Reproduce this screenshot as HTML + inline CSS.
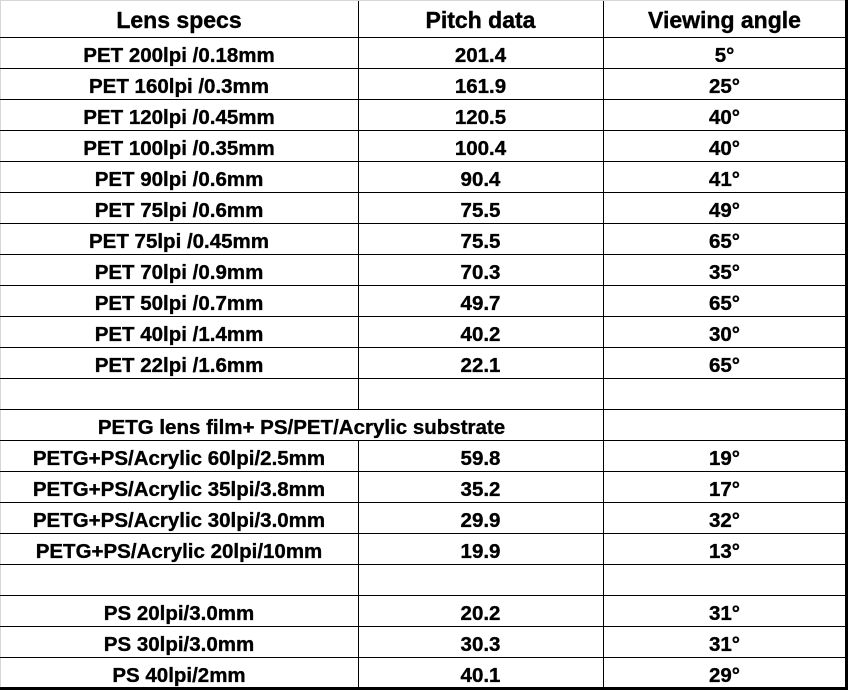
<!DOCTYPE html>
<html>
<head>
<meta charset="utf-8">
<style>
  html,body{margin:0;padding:0;background:#fff;}
  #w{position:relative;width:848px;height:690px;overflow:hidden;background:#fff;
     font-family:"Liberation Sans",Arial,sans-serif;font-weight:bold;color:#000;}
  .h{position:absolute;left:0;width:845px;height:1px;background:#000;}
  .v{position:absolute;width:1px;background:#000;}
  .t{position:absolute;height:31px;line-height:31px;font-size:20.5px;text-align:center;white-space:nowrap;-webkit-text-stroke:0.35px #000;}
  .hd{position:absolute;height:37px;line-height:37px;font-size:23px;text-align:center;white-space:nowrap;top:2px;-webkit-text-stroke:0.4px #000;}
  .c1{left:0;width:358px;}
  .c2{left:358px;width:245px;}
  .c3{left:603px;width:243px;}
  .m{left:0;width:603px;}
</style>
</head>
<body>
<div id="w">
  <!-- outer borders -->
  <div style="position:absolute;left:0;top:0;width:848px;height:1px;background:#d6d6d6;"></div>
  <div style="position:absolute;left:0;top:0;width:1px;height:690px;background:#d6d6d6;"></div>
  <div style="position:absolute;left:845px;top:0;width:3px;height:690px;background:#000;"></div>
  <div style="position:absolute;left:0;top:687px;width:848px;height:3px;background:#000;"></div>

  <!-- vertical lines -->
  <div class="v" style="left:358px;top:1px;height:409px;"></div>
  <div class="v" style="left:358px;top:440px;height:248px;"></div>
  <div class="v" style="left:603px;top:1px;height:687px;"></div>

  <!-- horizontal lines -->
  <div class="h" style="top:37px"></div>
  <div class="h" style="top:68px"></div>
  <div class="h" style="top:99px"></div>
  <div class="h" style="top:130px"></div>
  <div class="h" style="top:161px"></div>
  <div class="h" style="top:192px"></div>
  <div class="h" style="top:223px"></div>
  <div class="h" style="top:254px"></div>
  <div class="h" style="top:285px"></div>
  <div class="h" style="top:316px"></div>
  <div class="h" style="top:347px"></div>
  <div class="h" style="top:378px"></div>
  <div class="h" style="top:409px"></div>
  <div class="h" style="top:440px"></div>
  <div class="h" style="top:471px"></div>
  <div class="h" style="top:502px"></div>
  <div class="h" style="top:533px"></div>
  <div class="h" style="top:564px"></div>
  <div class="h" style="top:595px"></div>
  <div class="h" style="top:626px"></div>
  <div class="h" style="top:657px"></div>

  <!-- header -->
  <div class="hd c1">Lens specs</div>
  <div class="hd c2">Pitch data</div>
  <div class="hd c3">Viewing angle</div>

  <!-- rows -->
  <div class="t c1" style="top:40px">PET 200lpi /0.18mm</div><div class="t c2" style="top:40px">201.4</div><div class="t c3" style="top:40px">5°</div>
  <div class="t c1" style="top:71px">PET 160lpi /0.3mm</div><div class="t c2" style="top:71px">161.9</div><div class="t c3" style="top:71px">25°</div>
  <div class="t c1" style="top:102px">PET 120lpi /0.45mm</div><div class="t c2" style="top:102px">120.5</div><div class="t c3" style="top:102px">40°</div>
  <div class="t c1" style="top:133px">PET 100lpi /0.35mm</div><div class="t c2" style="top:133px">100.4</div><div class="t c3" style="top:133px">40°</div>
  <div class="t c1" style="top:164px">PET 90lpi /0.6mm</div><div class="t c2" style="top:164px">90.4</div><div class="t c3" style="top:164px">41°</div>
  <div class="t c1" style="top:195px">PET 75lpi /0.6mm</div><div class="t c2" style="top:195px">75.5</div><div class="t c3" style="top:195px">49°</div>
  <div class="t c1" style="top:226px">PET 75lpi /0.45mm</div><div class="t c2" style="top:226px">75.5</div><div class="t c3" style="top:226px">65°</div>
  <div class="t c1" style="top:257px">PET 70lpi /0.9mm</div><div class="t c2" style="top:257px">70.3</div><div class="t c3" style="top:257px">35°</div>
  <div class="t c1" style="top:288px">PET 50lpi /0.7mm</div><div class="t c2" style="top:288px">49.7</div><div class="t c3" style="top:288px">65°</div>
  <div class="t c1" style="top:319px">PET 40lpi /1.4mm</div><div class="t c2" style="top:319px">40.2</div><div class="t c3" style="top:319px">30°</div>
  <div class="t c1" style="top:350px">PET 22lpi /1.6mm</div><div class="t c2" style="top:350px">22.1</div><div class="t c3" style="top:350px">65°</div>

  <div class="t m" style="top:412px">PETG lens film+ PS/PET/Acrylic substrate</div>

  <div class="t c1" style="top:443px">PETG+PS/Acrylic 60lpi/2.5mm</div><div class="t c2" style="top:443px">59.8</div><div class="t c3" style="top:443px">19°</div>
  <div class="t c1" style="top:474px">PETG+PS/Acrylic 35lpi/3.8mm</div><div class="t c2" style="top:474px">35.2</div><div class="t c3" style="top:474px">17°</div>
  <div class="t c1" style="top:505px">PETG+PS/Acrylic 30lpi/3.0mm</div><div class="t c2" style="top:505px">29.9</div><div class="t c3" style="top:505px">32°</div>
  <div class="t c1" style="top:536px">PETG+PS/Acrylic 20lpi/10mm</div><div class="t c2" style="top:536px">19.9</div><div class="t c3" style="top:536px">13°</div>

  <div class="t c1" style="top:598px">PS 20lpi/3.0mm</div><div class="t c2" style="top:598px">20.2</div><div class="t c3" style="top:598px">31°</div>
  <div class="t c1" style="top:629px">PS 30lpi/3.0mm</div><div class="t c2" style="top:629px">30.3</div><div class="t c3" style="top:629px">31°</div>
  <div class="t c1" style="top:660px">PS 40lpi/2mm</div><div class="t c2" style="top:660px">40.1</div><div class="t c3" style="top:660px">29°</div>
</div>
</body>
</html>
